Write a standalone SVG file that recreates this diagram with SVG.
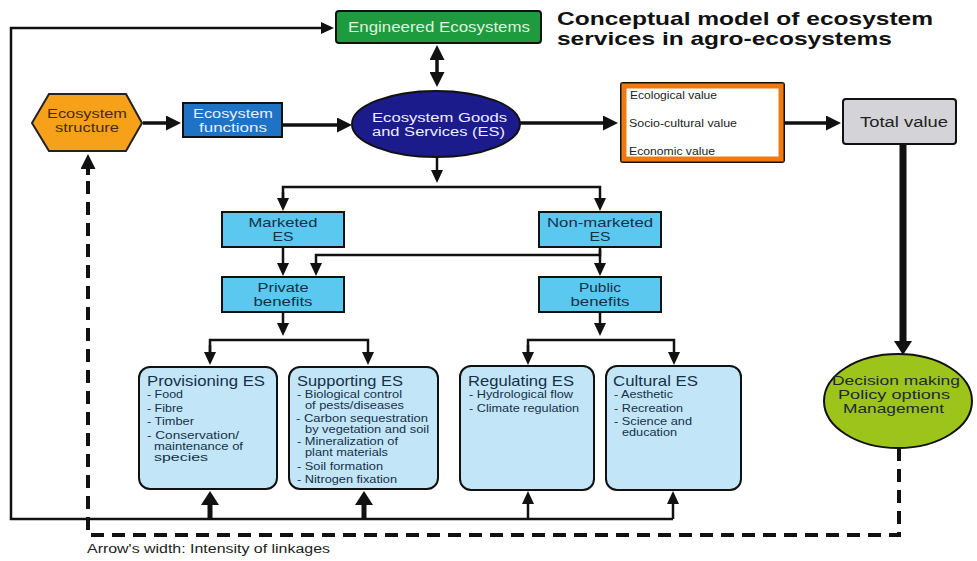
<svg xmlns="http://www.w3.org/2000/svg" width="977" height="561" viewBox="0 0 977 561">
<style>
text{font-family:"Liberation Sans",Arial,sans-serif}
.c{stroke:#111;stroke-width:2.5;fill:none}
.t{stroke:#111;stroke-width:3.5;fill:none}
.bx{fill:#5bc8f0;stroke:#111;stroke-width:2}
.lb{font-size:13px;fill:#15304a;text-anchor:middle}
.es{fill:#c2e6f7;stroke:#111;stroke-width:2}
.h{font-size:15px;fill:#15304a}
.i{font-size:10.5px;fill:#15304a}
.v{font-size:10.5px;fill:#222}
.dash{stroke:#111;stroke-width:4;fill:none;stroke-dasharray:13 8}
</style>
<defs>
<marker id="m" markerUnits="userSpaceOnUse" markerWidth="13" markerHeight="12" refX="0" refY="6" orient="auto-start-reverse"><path d="M0,0 L13,6 L0,12 z" fill="#111"/></marker>
<marker id="mt" markerUnits="userSpaceOnUse" markerWidth="15" markerHeight="15" refX="0" refY="7.5" orient="auto-start-reverse"><path d="M0,0 L15,7.5 L0,15 z" fill="#111"/></marker>
<marker id="mb" markerUnits="userSpaceOnUse" markerWidth="14" markerHeight="18" refX="0" refY="9" orient="auto-start-reverse"><path d="M0,0 L14,9 L0,18 z" fill="#111"/></marker>
</defs>

<g id="connectors">
<polyline class="c" points="673,519 11,519 11,28 321,28" marker-end="url(#m)"/>
<line class="c" x1="528" y1="519" x2="528" y2="504" marker-end="url(#m)"/>
<line class="c" x1="673" y1="519" x2="673" y2="504" marker-end="url(#m)"/>
<line stroke="#111" stroke-width="5" x1="210" y1="519" x2="210" y2="505" marker-end="url(#mb)"/>
<line stroke="#111" stroke-width="5" x1="364" y1="519" x2="364" y2="505" marker-end="url(#mb)"/>
<line class="t" x1="437" y1="60" x2="437" y2="72" marker-start="url(#mt)" marker-end="url(#mt)"/>
<line class="t" x1="143" y1="123" x2="166" y2="123" marker-end="url(#mt)"/>
<line class="t" x1="282" y1="125" x2="337" y2="125" marker-end="url(#mt)"/>
<line class="t" x1="520" y1="123" x2="603" y2="123" marker-end="url(#mt)"/>
<line class="t" x1="785" y1="123" x2="826" y2="123" marker-end="url(#mt)"/>
<line stroke="#111" stroke-width="7" x1="903" y1="144" x2="903" y2="341" marker-end="url(#mb)"/>
<line class="c" x1="437" y1="157" x2="437" y2="170" marker-end="url(#m)"/>
<polyline class="c" points="283,198 283,187 600,187 600,198" marker-end="url(#m)"/>
<line class="c" x1="283" y1="192" x2="283" y2="198" marker-end="url(#m)"/>
<line class="c" x1="283" y1="247" x2="283" y2="263" marker-end="url(#m)"/>
<polyline class="c" points="600,247 600,255 316,255 316,263" marker-end="url(#m)"/>
<line class="c" x1="600" y1="250" x2="600" y2="263" marker-end="url(#m)"/>
<line class="c" x1="283" y1="312" x2="283" y2="323" marker-end="url(#m)"/>
<line class="c" x1="600" y1="312" x2="600" y2="323" marker-end="url(#m)"/>
<polyline class="c" points="210,352 210,340 368,340 368,352" marker-end="url(#m)"/>
<line class="c" x1="210" y1="345" x2="210" y2="352" marker-end="url(#m)"/>
<polyline class="c" points="528,352 528,340 674,340 674,352" marker-end="url(#m)"/>
<line class="c" x1="528" y1="345" x2="528" y2="352" marker-end="url(#m)"/>
<polyline class="dash" points="899,448 899,535 88,535 88,172"/>
<line stroke="#111" stroke-width="4" x1="88" y1="175" x2="88" y2="169" marker-end="url(#mt)"/>
</g>

<g id="engineered">
<rect x="336" y="11" width="205" height="32" rx="3" fill="#1e9b3e" stroke="#111" stroke-width="2"/>
<text x="348" y="32" font-size="14" fill="#dff3df" textLength="182" lengthAdjust="spacingAndGlyphs">Engineered Ecosystems</text>
</g>

<g id="title">
<text x="557" y="25" font-size="19" font-weight="bold" fill="#111" textLength="376" lengthAdjust="spacingAndGlyphs">Conceptual model of ecosystem</text>
<text x="557" y="45" font-size="19" font-weight="bold" fill="#111" textLength="335" lengthAdjust="spacingAndGlyphs">services in agro-ecosystems</text>
</g>

<g id="structure">
<polygon points="32,123 49,94 126,94 142,123 126,151 49,151" fill="#f7a11a" stroke="#222" stroke-width="2"/>
<text x="47" y="118" font-size="13" fill="#4a2a10" textLength="80" lengthAdjust="spacingAndGlyphs">Ecosystem</text>
<text x="55" y="132" font-size="13" fill="#4a2a10" textLength="64" lengthAdjust="spacingAndGlyphs">structure</text>
</g>

<g id="functions">
<rect x="183" y="103" width="99" height="34" fill="#1e73c5" stroke="#111" stroke-width="2"/>
<text x="193" y="118" font-size="12.5" fill="#e6eeff" textLength="80" lengthAdjust="spacingAndGlyphs">Ecosystem</text>
<text x="199" y="132" font-size="12.5" fill="#e6eeff" textLength="68" lengthAdjust="spacingAndGlyphs">functions</text>
</g>

<g id="goods">
<ellipse cx="436" cy="124" rx="84" ry="33" fill="#1b1b8c" stroke="#111" stroke-width="2"/>
<text x="372" y="122" font-size="12.5" fill="#eef" textLength="135" lengthAdjust="spacingAndGlyphs">Ecosystem Goods</text>
<text x="372" y="136" font-size="12.5" fill="#eef" textLength="133" lengthAdjust="spacingAndGlyphs">and Services (ES)</text>
</g>

<g id="values">
<rect x="621" y="83" width="163" height="79" rx="2" fill="#fff" stroke="#111" stroke-width="2"/>
<rect x="624" y="86" width="157" height="73" fill="#fff" stroke="#f07a10" stroke-width="5"/>
<text class="v" x="630" y="99" textLength="87" lengthAdjust="spacingAndGlyphs">Ecological value</text>
<text class="v" x="629" y="127" textLength="108" lengthAdjust="spacingAndGlyphs">Socio-cultural value</text>
<text class="v" x="629" y="155" textLength="86" lengthAdjust="spacingAndGlyphs">Economic value</text>
</g>

<g id="total">
<rect x="843" y="99" width="113" height="45" rx="3" fill="#d4d4d8" stroke="#111" stroke-width="2"/>
<text x="860" y="127" font-size="14" fill="#222" textLength="88" lengthAdjust="spacingAndGlyphs">Total value</text>
</g>

<g id="decision">
<ellipse cx="898" cy="401" rx="74" ry="47" fill="#9dc41b" stroke="#111" stroke-width="2"/>
<text x="832" y="385" font-size="13.5" fill="#1c2a30" textLength="128" lengthAdjust="spacingAndGlyphs">Decision making</text>
<text x="838" y="399" font-size="13.5" fill="#1c2a30" textLength="112" lengthAdjust="spacingAndGlyphs">Policy options</text>
<text x="843" y="413" font-size="13.5" fill="#1c2a30" textLength="101" lengthAdjust="spacingAndGlyphs">Management</text>
</g>

<g id="marketed">
<rect class="bx" x="222" y="212" width="122" height="35"/>
<text class="lb" x="283" y="227" textLength="69" lengthAdjust="spacingAndGlyphs">Marketed</text>
<text class="lb" x="283" y="241" textLength="21" lengthAdjust="spacingAndGlyphs">ES</text>
</g>
<g id="nonmarketed">
<rect class="bx" x="539" y="212" width="122" height="35"/>
<text class="lb" x="600" y="227" textLength="106" lengthAdjust="spacingAndGlyphs">Non-marketed</text>
<text class="lb" x="600" y="241" textLength="21" lengthAdjust="spacingAndGlyphs">ES</text>
</g>
<g id="private">
<rect class="bx" x="222" y="277" width="122" height="35"/>
<text class="lb" x="283" y="292" textLength="51" lengthAdjust="spacingAndGlyphs">Private</text>
<text class="lb" x="283" y="306" textLength="59" lengthAdjust="spacingAndGlyphs">benefits</text>
</g>
<g id="public">
<rect class="bx" x="539" y="277" width="122" height="35"/>
<text class="lb" x="600" y="292" textLength="42" lengthAdjust="spacingAndGlyphs">Public</text>
<text class="lb" x="600" y="306" textLength="59" lengthAdjust="spacingAndGlyphs">benefits</text>
</g>

<g id="provisioning">
<rect class="es" x="139" y="367" width="138" height="122" rx="11"/>
<text class="h" x="147" y="386" textLength="118" lengthAdjust="spacingAndGlyphs">Provisioning ES</text>
<text class="i" x="147" y="398" textLength="36" lengthAdjust="spacingAndGlyphs">- Food</text>
<text class="i" x="147" y="412" textLength="36" lengthAdjust="spacingAndGlyphs">- Fibre</text>
<text class="i" x="147" y="425" textLength="47" lengthAdjust="spacingAndGlyphs">- Timber</text>
<text class="i" x="147" y="439" textLength="92" lengthAdjust="spacingAndGlyphs">- Conservation/</text>
<text class="i" x="154" y="450" textLength="89" lengthAdjust="spacingAndGlyphs">maintenance of</text>
<text class="i" x="154" y="461" textLength="54" lengthAdjust="spacingAndGlyphs">species</text>
</g>
<g id="supporting">
<rect class="es" x="289" y="367" width="149" height="122" rx="11"/>
<text class="h" x="297" y="386" textLength="106" lengthAdjust="spacingAndGlyphs">Supporting ES</text>
<text class="i" x="297" y="398" textLength="105" lengthAdjust="spacingAndGlyphs">- Biological control</text>
<text class="i" x="305" y="409" textLength="99" lengthAdjust="spacingAndGlyphs">of pests/diseases</text>
<text class="i" x="296" y="422" textLength="132" lengthAdjust="spacingAndGlyphs">- Carbon sequestration</text>
<text class="i" x="305" y="433" textLength="124" lengthAdjust="spacingAndGlyphs">by vegetation and soil</text>
<text class="i" x="297" y="445" textLength="101" lengthAdjust="spacingAndGlyphs">- Mineralization of</text>
<text class="i" x="305" y="456" textLength="83" lengthAdjust="spacingAndGlyphs">plant materials</text>
<text class="i" x="297" y="470" textLength="86" lengthAdjust="spacingAndGlyphs">- Soil formation</text>
<text class="i" x="297" y="483" textLength="100" lengthAdjust="spacingAndGlyphs">- Nitrogen fixation</text>
</g>
<g id="regulating">
<rect class="es" x="460" y="366" width="134" height="124" rx="11"/>
<text class="h" x="468" y="386" textLength="106" lengthAdjust="spacingAndGlyphs">Regulating ES</text>
<text class="i" x="469" y="398" textLength="104" lengthAdjust="spacingAndGlyphs">- Hydrological flow</text>
<text class="i" x="469" y="412" textLength="110" lengthAdjust="spacingAndGlyphs">- Climate regulation</text>
</g>
<g id="cultural">
<rect class="es" x="606" y="366" width="135" height="124" rx="11"/>
<text class="h" x="613" y="386" textLength="85" lengthAdjust="spacingAndGlyphs">Cultural ES</text>
<text class="i" x="614" y="398" textLength="59" lengthAdjust="spacingAndGlyphs">- Aesthetic</text>
<text class="i" x="614" y="412" textLength="69" lengthAdjust="spacingAndGlyphs">- Recreation</text>
<text class="i" x="614" y="425" textLength="78" lengthAdjust="spacingAndGlyphs">- Science and</text>
<text class="i" x="622" y="436" textLength="55" lengthAdjust="spacingAndGlyphs">education</text>
</g>

<g id="note">
<text x="87" y="553" font-size="12" fill="#222" textLength="243" lengthAdjust="spacingAndGlyphs">Arrow's width: Intensity of linkages</text>
</g>
</svg>
